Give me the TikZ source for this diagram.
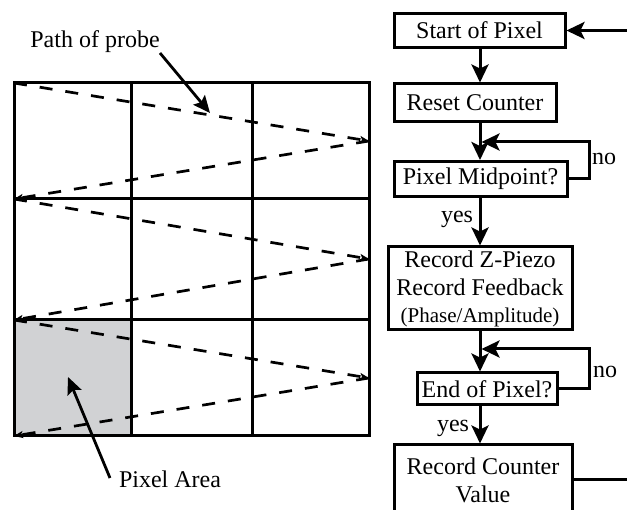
\documentclass[tikz,border=0pt]{standalone}
\usepackage{fontspec}
\setmainfont{Liberation Serif}
\usetikzlibrary{arrows.meta,calc}
\definecolor{cellgray}{RGB}{209,210,212}
\begin{document}
\begin{tikzpicture}[x=1pt,y=-1pt,
  fbox/.style={draw, line width=3pt, inner sep=0pt, align=center, font=\fontsize{24}{28}\selectfont},
  lbl/.style={inner sep=0pt, font=\fontsize{24}{28}\selectfont},
  flow/.style={line width=3pt, -{Stealth[length=18pt,width=17pt,inset=4pt]}},
  plain/.style={line width=3pt},
  ptr/.style={line width=2.8pt, -{Stealth[length=17pt,width=15pt,inset=3pt]}},
  probepath/.style={line width=2.7pt, dash pattern=on 13pt off 13pt, -{Stealth[length=9pt,width=7pt,inset=2pt]}},
  gridline/.style={line width=3pt}
]
\useasboundingbox (0,0) rectangle (627,510);
\clip (0,0) rectangle (627,510);

% ---------- grid ----------
\fill[cellgray] (14,320) rectangle (131,436);
\draw[probepath] (14,83) -- (369,141);
\draw[probepath] (369,141) -- (14,199);
\draw[probepath] (14,199) -- (369,259);
\draw[probepath] (369,259) -- (14,320);
\draw[probepath] (14,320) -- (369,378);
\draw[probepath] (369,378) -- (14,436);
\draw[gridline] (14,83) rectangle (369,436);
\draw[gridline] (131,83) -- (131,436);
\draw[gridline] (252,83) -- (252,436);
\draw[gridline] (14,199) -- (369,199);
\draw[gridline] (14,320) -- (369,320);

\node[lbl, anchor=base] (probe) at (95,48) {Path of probe};
\coordinate (probeTail) at (160,53);
\coordinate (probeTip) at (210,113);
\draw[ptr] (probeTail) -- (probeTip);

\node[lbl, anchor=base] (area) at (170,488) {Pixel Area};
\coordinate (areaTail) at (110,478);
\coordinate (areaTip) at (68,377);
\draw[ptr] (areaTail) -- (areaTip);

% ---------- flowchart ----------
\coordinate (axis) at (480,0);
\coordinate (loopx) at (589,0);
\node[fbox, minimum width=171pt, minimum height=34pt] (start) at (479.5,30.5) {Start of Pixel};
\node[fbox, minimum width=162pt, minimum height=38pt] (reset) at (475,103) {Reset Counter};
\node[fbox, minimum width=173pt, minimum height=35pt] (mid) at (480.5,179) {Pixel Midpoint?};
\node[fbox, minimum width=184pt, minimum height=83pt] (rec) at (480,288.5)
  {Record Z-Piezo\\Record Feedback\\[-1pt]{\fontsize{21}{27}\selectfont (Phase/Amplitude)}};
\node[fbox, minimum width=140pt, minimum height=32pt] (endp) at (487,389) {End of Pixel?};
\node[fbox, minimum width=178pt, minimum height=70pt] (cnt) at (483,480) {Record Counter\\Value};

\coordinate (inR) at (627,30.5);
\coordinate (outR) at (627,480);
\coordinate (lp1) at (481.5,142);
\coordinate (lp2) at (481.5,349);

\draw[flow] (inR) -- (start.east);
\draw[flow] (start.south -| axis) -- (reset.north -| axis);
\draw[flow] (reset.south -| axis) -- (mid.north -| axis);
\draw[flow] (mid.south -| axis) -- (rec.north -| axis);
\draw[flow] (rec.south -| axis) -- (endp.north -| axis);
\draw[flow] (endp.south -| axis) -- (cnt.north -| axis);
\draw[flow] (mid.east) -- (mid.east -| loopx) |- (lp1);
\draw[flow] (endp.east) -- (endp.east -| loopx) |- (lp2);
\draw[plain] (cnt.east) -- (outR);

\node[lbl, anchor=base] (no1) at (604,165) {no};
\node[lbl, anchor=base] (no2) at (605,378) {no};
\node[lbl, anchor=base] (yes1) at (457,223) {yes};
\node[lbl, anchor=base] (yes2) at (453,432) {yes};
\end{tikzpicture}
\end{document}
